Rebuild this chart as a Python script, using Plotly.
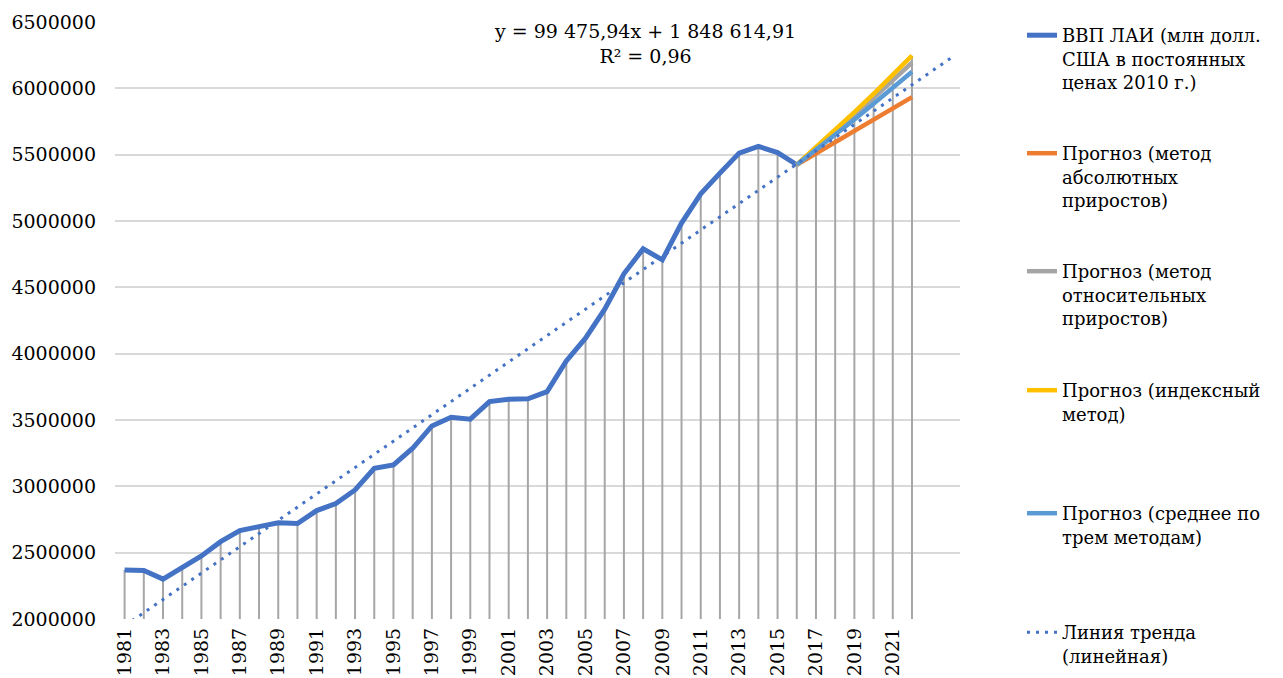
import plotly.graph_objects as go

# ---- data ----
years_hist = list(range(1981, 2017))
gdp_hist = [2370000, 2366000, 2301000, 2387000, 2475000, 2583000, 2666000, 2696000,
            2726000, 2720000, 2817000, 2870000, 2973000, 3136000, 3161000, 3287000,
            3455000, 3521000, 3506000, 3639000, 3657000, 3660000, 3714000, 3945000,
            4117000, 4335000, 4602000, 4790000, 4707000, 4984000, 5205000, 5361000,
            5512000, 5562000, 5516000, 5424000]

years_fc = list(range(2016, 2023))
fc_abs = [5424000, 5509000, 5594000, 5679000, 5764000, 5849000, 5934000]
fc_rel = [5424000, 5545400, 5669500, 5796400, 5926100, 6058700, 6194300]
fc_idx = [5424000, 5553100, 5685300, 5820600, 5959100, 6100900, 6246100]
fc_avg = [5424000, 5535800, 5649600, 5765300, 5883100, 6002900, 6124800]

trend_slope = 99475.94
trend_intercept = 1848614.91
trend_years = [1981, 2024]

tick_years = list(range(1981, 2022, 2))
y_ticks = [2000000, 2500000, 3000000, 3500000, 4000000, 4500000, 5000000, 5500000, 6000000, 6500000]

names = [
    "ВВП ЛАИ (млн долл.<br>США в постоянных<br>ценах 2010 г.)",
    "Прогноз (метод<br>абсолютных<br>приростов)",
    "Прогноз (метод<br>относительных<br>приростов)",
    "Прогноз (индексный<br>метод)",
    "Прогноз (среднее по<br>трем методам)",
    "Линия тренда<br>(линейная)",
]

FONT = "'DejaVu Serif', 'Liberation Serif', 'Times New Roman', serif"
BLUE = "#4472C4"
ORANGE = "#ED7D31"
GREY = "#A5A5A5"
YELLOW = "#FFC000"
LBLUE = "#5B9BD5"

# page has an 8px body margin: figure is 1275x670, placed at (8, 8)
W, H = 1275, 670
L, R, T, B = 107, 323, 14, 59
PH = H - T - B  # 597

fig = go.Figure()

# drop lines (to the highest series value in each year)
all_vals = {}
for x, v in zip(years_hist, gdp_hist):
    all_vals[x] = max(all_vals.get(x, 0), v)
for series in (fc_abs, fc_rel, fc_idx, fc_avg):
    for x, v in zip(years_fc, series):
        all_vals[x] = max(all_vals.get(x, 0), v)
dx, dy = [], []
for x in sorted(all_vals):
    dx += [x, x, None]
    dy += [y_ticks[0], all_vals[x], None]
fig.add_trace(go.Scatter(x=dx, y=dy, mode="lines", line=dict(color="#A6A6A6", width=2),
                         showlegend=False, hoverinfo="skip"))

fig.add_trace(go.Scatter(x=years_hist, y=gdp_hist, mode="lines", name=names[0],
                         line=dict(color=BLUE, width=5), legend="legend"))
fig.add_trace(go.Scatter(x=years_fc, y=fc_abs, mode="lines", name=names[1],
                         line=dict(color=ORANGE, width=4.5), legend="legend2"))
fig.add_trace(go.Scatter(x=years_fc, y=fc_rel, mode="lines", name=names[2],
                         line=dict(color=GREY, width=4.5), legend="legend3"))
fig.add_trace(go.Scatter(x=years_fc, y=fc_idx, mode="lines", name=names[3],
                         line=dict(color=YELLOW, width=4.5), legend="legend4"))
fig.add_trace(go.Scatter(x=years_fc, y=fc_avg, mode="lines", name=names[4],
                         line=dict(color=LBLUE, width=4.5), legend="legend5"))

trend_y = [trend_slope * (yr - 1980) + trend_intercept for yr in trend_years]
fig.add_trace(go.Scatter(x=trend_years, y=trend_y, mode="lines", name=names[5],
                         line=dict(color=BLUE, width=3, dash="3px,6px"), legend="legend6"))

leg_y = [37, 155, 273, 392, 515, 634]  # page y of first text line
legend_common = dict(font=dict(family=FONT, size=18, color="black"), bgcolor="rgba(0,0,0,0)",
                     xanchor="left", yanchor="top", valign="top", itemwidth=30)
layout_legends = {}
for i, py in enumerate(leg_y):
    key = "legend" if i == 0 else f"legend{i+1}"
    layout_legends[key] = dict(legend_common, x=(1014 - L) / 845,
                               y=(PH - (py - 42)) / PH)

fig.update_layout(
    width=W, height=H,
    margin=dict(l=L, r=R, t=T, b=B, autoexpand=False),
    plot_bgcolor="white", paper_bgcolor="white",
    font=dict(family=FONT, size=19, color="black"),
    showlegend=True,
    xaxis=dict(range=[1980.5, 2024.5], tickmode="array", tickvals=tick_years,
               ticktext=[str(t) for t in tick_years], tickangle=-90, automargin=False,
               showgrid=False, zeroline=False, showline=False,
               tickfont=dict(family=FONT, size=19, color="black"), ticklabelstandoff=4),
    yaxis=dict(range=[2000000, 6500000], tickmode="array", tickvals=y_ticks, automargin=False,
               ticktext=[str(t) for t in y_ticks], showgrid=True, gridcolor="#D9D9D9",
               gridwidth=1.5, zeroline=False, showline=False,
               tickfont=dict(family=FONT, size=19, color="black"), ticklabelstandoff=18),
    annotations=[dict(text="y = 99 475,94x + 1 848 614,91<br>R² = 0,96",
                      xref="paper", yref="paper", x=(645 - 8 - L) / 845, y=(611 - 35) / PH,
                      xanchor="center", yanchor="middle", showarrow=False,
                      font=dict(family=FONT, size=19, color="black"))],
    **layout_legends,
)

fig.write_html("out.html")
